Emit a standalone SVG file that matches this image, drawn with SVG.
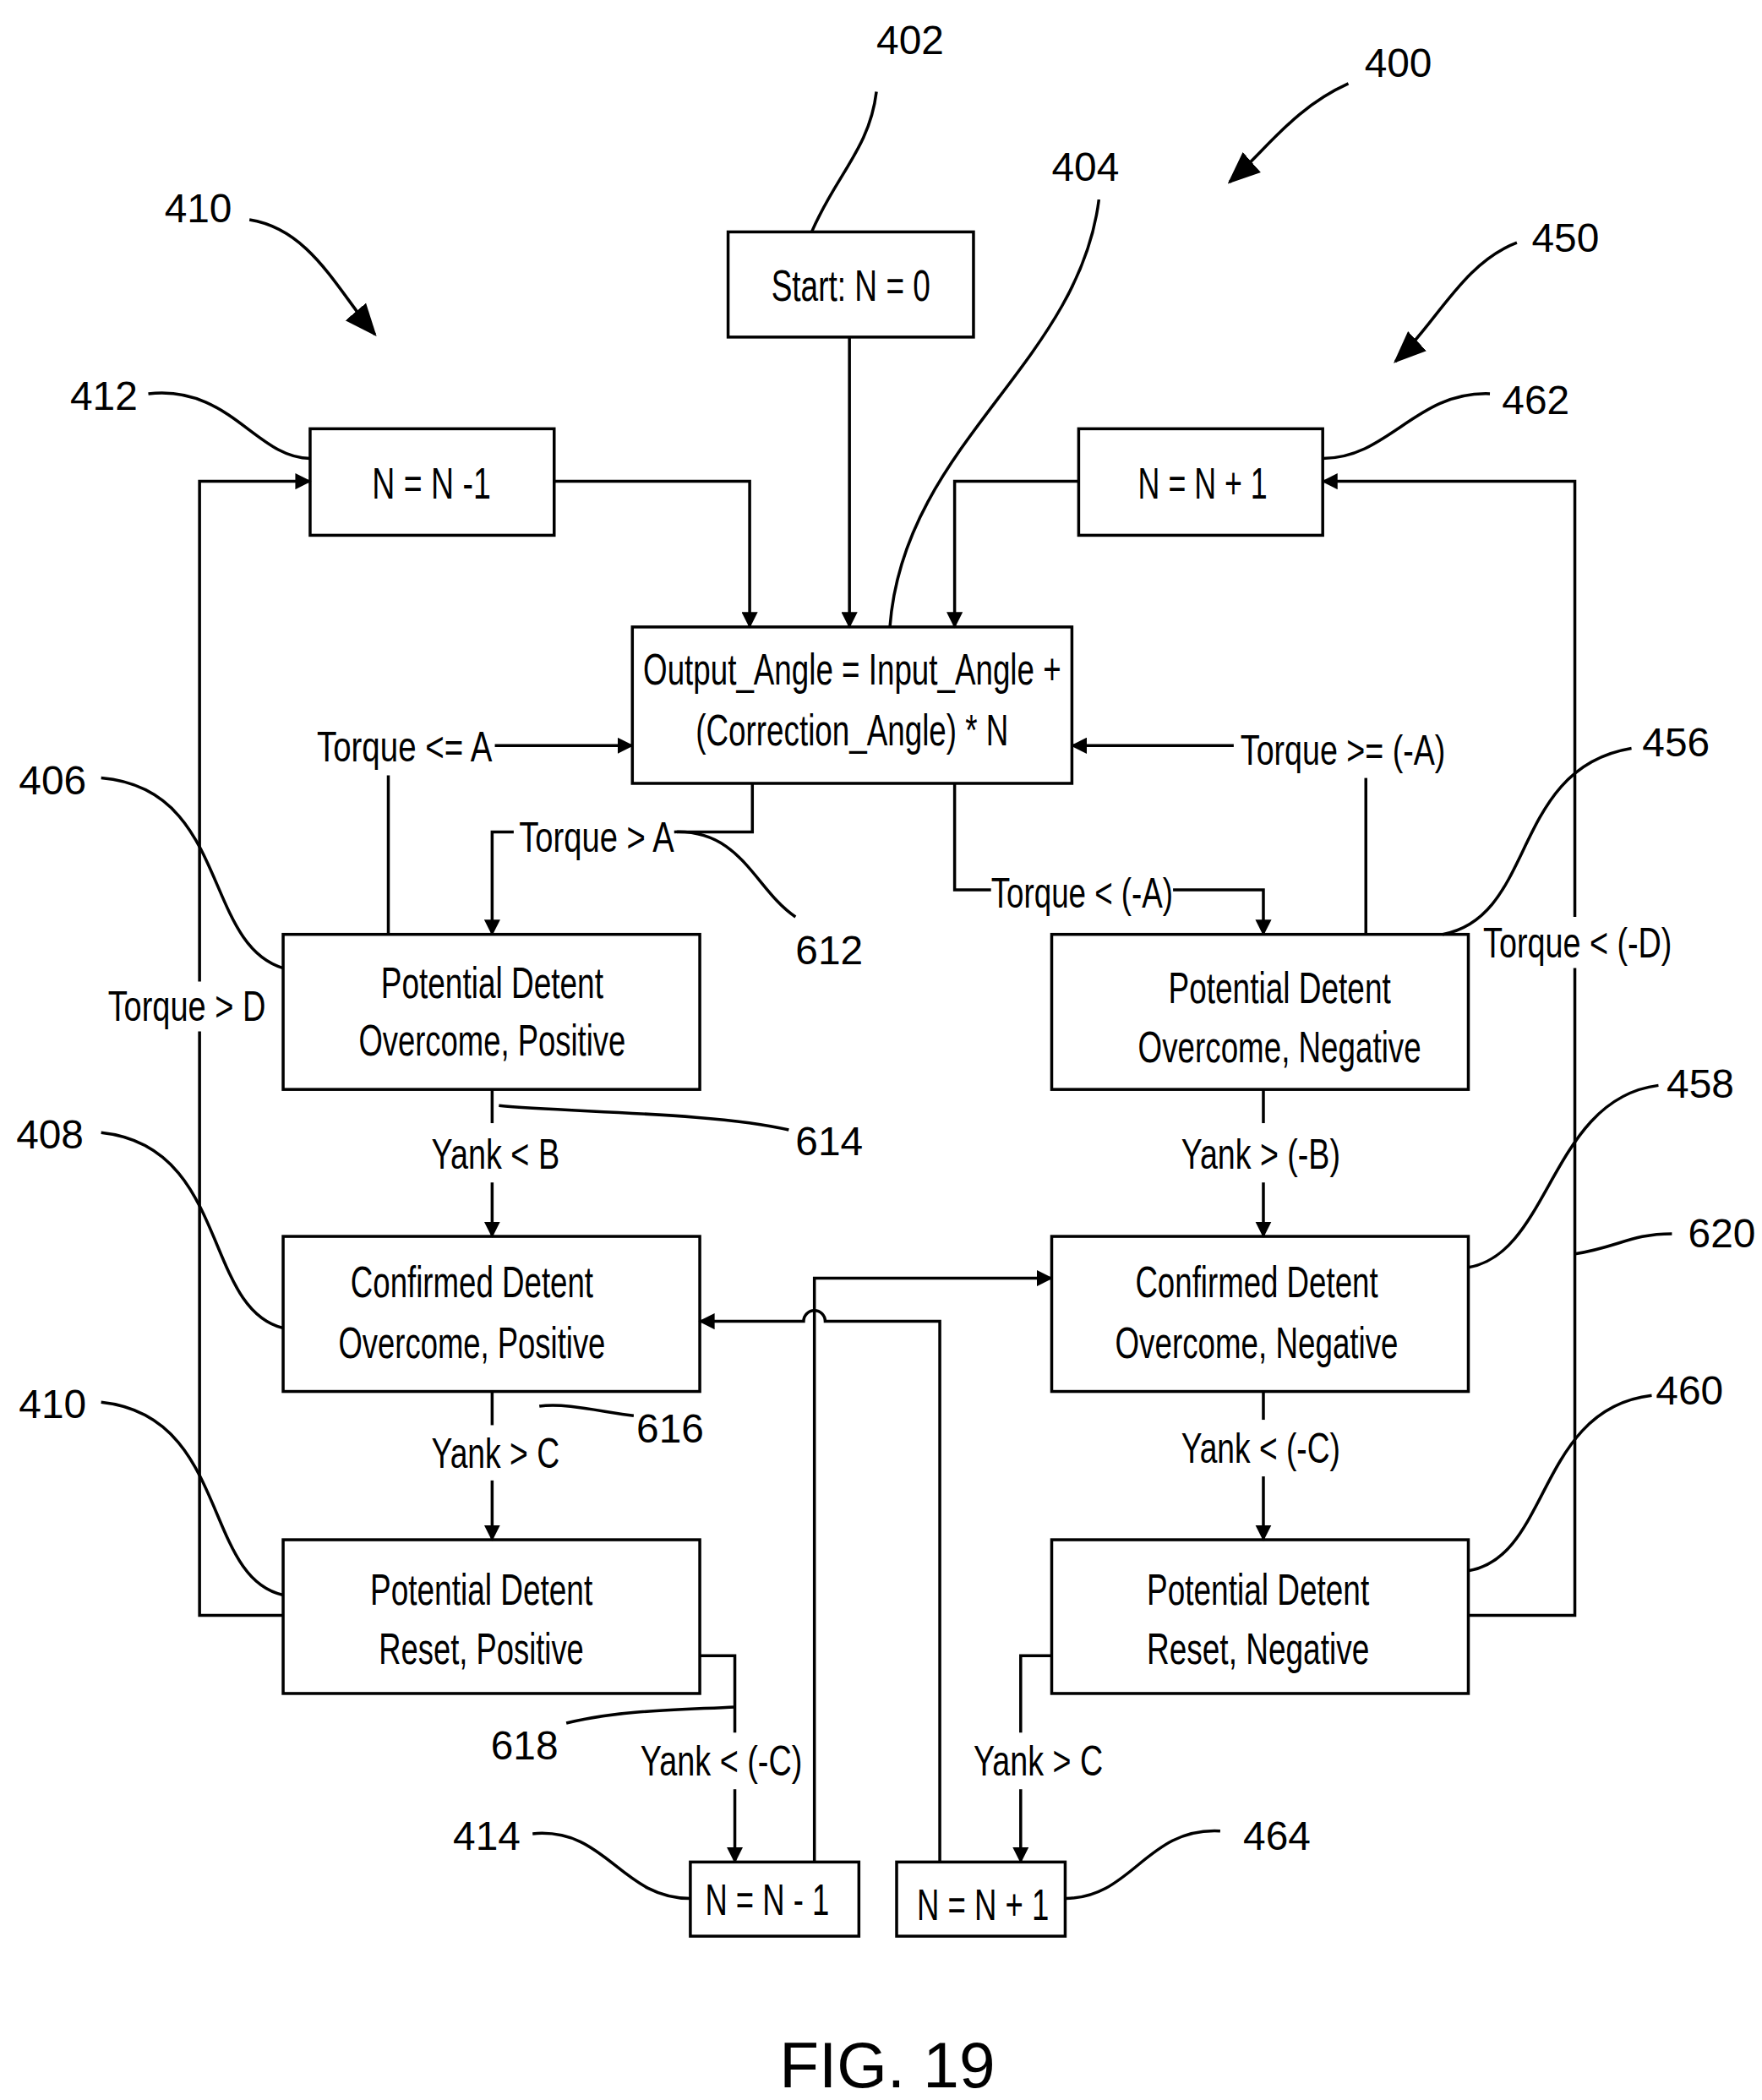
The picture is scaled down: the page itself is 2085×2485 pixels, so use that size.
<svg xmlns="http://www.w3.org/2000/svg" width="2085" height="2485" viewBox="0 0 2085 2485">
<defs>
<marker id="a" markerWidth="12" markerHeight="12" refX="11" refY="6" orient="auto" markerUnits="userSpaceOnUse"><path d="M0,0 L12,6 L0,12 z" fill="#000"/></marker>
<marker id="b" markerWidth="24" markerHeight="24" refX="22" refY="12" orient="auto" markerUnits="userSpaceOnUse"><path d="M0,2 L24,12 L0,22 z" fill="#000"/></marker>
<style>
rect{fill:#fff;stroke:#000;stroke-width:2.2}
rect.bg{stroke:none}
.c path,.c line{fill:none;stroke:#000;stroke-width:2.2}
.l path{fill:none;stroke:#000;stroke-width:2.2}
text{font-family:"Liberation Sans",Arial,sans-serif;font-size:31px;fill:#000}
.t{text-anchor:middle;font-size:32px}
.n{font-size:30px}
</style>
</defs>
<rect class="bg" x="0" y="0" width="2085" height="2485"/>
<g transform="scale(1.5955)">
<g id="start"><rect x="540" y="172" width="182" height="78"/><text class="t" x="631" y="223" textLength="118" lengthAdjust="spacingAndGlyphs">Start: N = 0</text></g>
<g id="n412"><rect x="230" y="318" width="181" height="79"/><text class="t" x="320" y="370" textLength="88" lengthAdjust="spacingAndGlyphs">N = N -1</text></g>
<g id="n462"><rect x="800" y="318" width="181" height="79"/><text class="t" x="892" y="370" textLength="96" lengthAdjust="spacingAndGlyphs">N = N + 1</text></g>
<g id="out"><rect x="469" y="465" width="326" height="116"/><text class="t" x="632" y="508" textLength="310" lengthAdjust="spacingAndGlyphs">Output_Angle = Input_Angle +</text><text class="t" x="632" y="553" textLength="232" lengthAdjust="spacingAndGlyphs">(Correction_Angle) * N</text></g>
<g id="pdop"><rect x="210" y="693" width="309" height="115"/><text class="t" x="365" y="740" textLength="165" lengthAdjust="spacingAndGlyphs">Potential Detent</text><text class="t" x="365" y="783" textLength="198" lengthAdjust="spacingAndGlyphs">Overcome, Positive</text></g>
<g id="pdon"><rect x="780" y="693" width="309" height="115"/><text class="t" x="949" y="744" textLength="165" lengthAdjust="spacingAndGlyphs">Potential Detent</text><text class="t" x="949" y="788" textLength="210" lengthAdjust="spacingAndGlyphs">Overcome, Negative</text></g>
<g id="cdop"><rect x="210" y="917" width="309" height="115"/><text class="t" x="350" y="962" textLength="180" lengthAdjust="spacingAndGlyphs">Confirmed Detent</text><text class="t" x="350" y="1007" textLength="198" lengthAdjust="spacingAndGlyphs">Overcome, Positive</text></g>
<g id="cdon"><rect x="780" y="917" width="309" height="115"/><text class="t" x="932" y="962" textLength="180" lengthAdjust="spacingAndGlyphs">Confirmed Detent</text><text class="t" x="932" y="1007" textLength="210" lengthAdjust="spacingAndGlyphs">Overcome, Negative</text></g>
<g id="pdrp"><rect x="210" y="1142" width="309" height="114"/><text class="t" x="357" y="1190" textLength="165" lengthAdjust="spacingAndGlyphs">Potential Detent</text><text class="t" x="357" y="1234" textLength="152" lengthAdjust="spacingAndGlyphs">Reset, Positive</text></g>
<g id="pdrn"><rect x="780" y="1142" width="309" height="114"/><text class="t" x="933" y="1190" textLength="165" lengthAdjust="spacingAndGlyphs">Potential Detent</text><text class="t" x="933" y="1234" textLength="165" lengthAdjust="spacingAndGlyphs">Reset, Negative</text></g>
<g id="n414"><rect x="512" y="1381" width="125" height="55"/><text class="t" x="569" y="1420" textLength="92" lengthAdjust="spacingAndGlyphs">N = N - 1</text></g>
<g id="n464"><rect x="665" y="1381" width="125" height="55"/><text class="t" x="729" y="1424" textLength="98" lengthAdjust="spacingAndGlyphs">N = N + 1</text></g>

<g id="connectors" class="c">
<path d="M630,250 V465" marker-end="url(#a)"/>
<path d="M411,357 H556 V465" marker-end="url(#a)"/>
<path d="M800,357 H708 V465" marker-end="url(#a)"/>
<path d="M288,693 V575"/>
<path d="M367,553 H469" marker-end="url(#a)"/>
<path d="M558,581 V617 H502"/>
<path d="M381,617 H365 V693" marker-end="url(#a)"/>
<path d="M708,581 V660 H735"/>
<path d="M870,660 H937 V693" marker-end="url(#a)"/>
<path d="M1013,693 V577"/>
<path d="M915,553 H795" marker-end="url(#a)"/>
<path d="M365,808 V833"/><path d="M365,877 V917" marker-end="url(#a)"/>
<path d="M937,808 V833"/><path d="M937,877 V917" marker-end="url(#a)"/>
<path d="M365,1032 V1057"/><path d="M365,1098 V1142" marker-end="url(#a)"/>
<path d="M937,1032 V1053"/><path d="M937,1095 V1142" marker-end="url(#a)"/>
<path d="M210,1198 H148 V765"/><path d="M148,728 V357 H230" marker-end="url(#a)"/>
<path d="M1089,1198 H1168 V718"/><path d="M1168,680 V357 H981" marker-end="url(#a)"/>
<path d="M519,1228 H545 V1285"/><path d="M545,1327 V1381" marker-end="url(#a)"/>
<path d="M780,1228 H757 V1285"/><path d="M757,1327 V1381" marker-end="url(#a)"/>
<path d="M604,1381 V948 H780" marker-end="url(#a)"/>
<path d="M697,1381 V980 H612 A8,8 0 0 0 596,980 H519" marker-end="url(#a)"/>
</g>
<g id="labels">
<text x="235" y="565" textLength="130" lengthAdjust="spacingAndGlyphs">Torque &lt;= A</text>
<text x="385" y="632" textLength="115" lengthAdjust="spacingAndGlyphs">Torque &gt; A</text>
<text x="735" y="673" textLength="135" lengthAdjust="spacingAndGlyphs">Torque &lt; (-A)</text>
<text x="920" y="567" textLength="152" lengthAdjust="spacingAndGlyphs">Torque &gt;= (-A)</text>
<text x="80" y="757" textLength="117" lengthAdjust="spacingAndGlyphs">Torque &gt; D</text>
<text x="1100" y="710" textLength="140" lengthAdjust="spacingAndGlyphs">Torque &lt; (-D)</text>
<text x="320" y="867" textLength="95" lengthAdjust="spacingAndGlyphs">Yank &lt; B</text>
<text x="876" y="867" textLength="118" lengthAdjust="spacingAndGlyphs">Yank &gt; (-B)</text>
<text x="320" y="1089" textLength="95" lengthAdjust="spacingAndGlyphs">Yank &gt; C</text>
<text x="876" y="1085" textLength="118" lengthAdjust="spacingAndGlyphs">Yank &lt; (-C)</text>
<text x="475" y="1317" textLength="120" lengthAdjust="spacingAndGlyphs">Yank &lt; (-C)</text>
<text x="722" y="1317" textLength="96" lengthAdjust="spacingAndGlyphs">Yank &gt; C</text>
</g>
<g id="leaders" class="l">
<path d="M602,172 C620,130 645,110 650,68"/>
<path d="M1000,62 C960,80 940,110 912,135" marker-end="url(#b)"/>
<path d="M660,465 C670,330 800,270 815,148"/>
<path d="M185,163 C230,170 250,215 278,248" marker-end="url(#b)"/>
<path d="M1125,180 C1085,195 1065,240 1035,268" marker-end="url(#b)"/>
<path d="M110,292 C170,285 190,340 230,340"/>
<path d="M1105,292 C1050,290 1030,340 981,340"/>
<path d="M75,577 C170,585 150,700 210,718"/>
<path d="M1210,555 C1120,570 1140,680 1070,693"/>
<path d="M500,617 C550,615 560,660 590,680"/>
<path d="M370,820 C420,825 530,825 585,838"/>
<path d="M75,840 C170,850 150,970 210,985"/>
<path d="M1230,805 C1150,815 1150,930 1089,940"/>
<path d="M1168,930 C1200,925 1210,915 1240,915"/>
<path d="M400,1043 C420,1040 450,1048 470,1050"/>
<path d="M75,1040 C170,1050 150,1170 210,1183"/>
<path d="M1225,1035 C1140,1045 1150,1155 1089,1165"/>
<path d="M420,1278 C460,1268 510,1268 545,1266"/>
<path d="M395,1360 C450,1355 460,1408 512,1408"/>
<path d="M905,1358 C850,1355 840,1408 790,1408"/>
</g>
<g id="refs" class="n">
<text x="650" y="40" class="n">402</text>
<text x="1012" y="57" class="n">400</text>
<text x="780" y="134" class="n">404</text>
<text x="122" y="165" class="n">410</text>
<text x="1136" y="187" class="n">450</text>
<text x="52" y="304" class="n">412</text>
<text x="1114" y="307" class="n">462</text>
<text x="14" y="589" class="n">406</text>
<text x="1218" y="561" class="n">456</text>
<text x="590" y="715" class="n">612</text>
<text x="590" y="857" class="n">614</text>
<text x="12" y="852" class="n">408</text>
<text x="1236" y="814" class="n">458</text>
<text x="1252" y="925" class="n">620</text>
<text x="472" y="1070" class="n">616</text>
<text x="14" y="1052" class="n">410</text>
<text x="1228" y="1042" class="n">460</text>
<text x="364" y="1305" class="n">618</text>
<text x="336" y="1372" class="n">414</text>
<text x="922" y="1372" class="n">464</text>
<text x="658" y="1548" style="font-size:48px;text-anchor:middle">FIG. 19</text>
</g>
</g>
</svg>
